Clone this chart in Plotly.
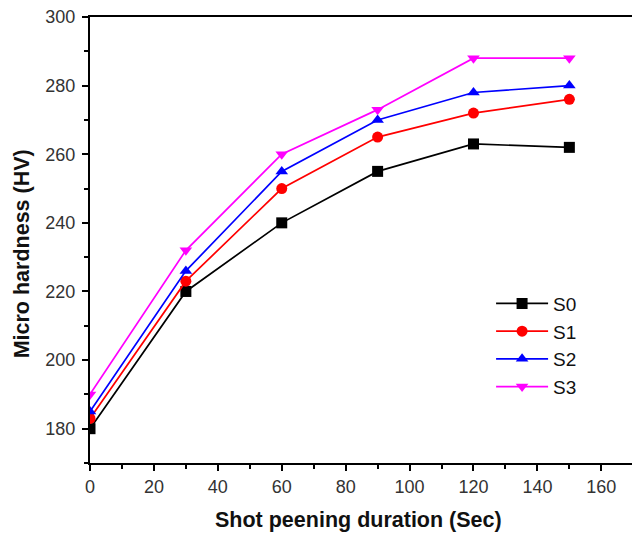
import plotly.graph_objects as go

x = [0, 30, 60, 90, 120, 150]
s0 = [180, 220, 240, 255, 263, 262]
s1 = [183, 223, 250, 265, 272, 276]
s2 = [185, 226, 255, 270, 278, 280]
s3 = [190, 232, 260, 273, 288, 288]
names = ["S0", "S1", "S2", "S3"]
colors = ["#000000", "#ff0000", "#0000ff", "#ff00ff"]
symbols = ["square", "circle", "triangle-up", "triangle-down"]
x_title = "Shot peening duration (Sec)"
y_title = "Micro hardness (HV)"

fig = go.Figure()
for name, ys, c, sym in zip(names, [s0, s1, s2, s3], colors, symbols):
    fig.add_trace(go.Scatter(
        x=x, y=ys, name=name, mode="lines+markers",
        line=dict(color=c, width=1.7),
        marker=dict(symbol=sym, size=11, color=c),
    ))

font = "Liberation Sans, Arial, sans-serif"
fig.update_layout(
    width=632, height=535,
    margin=dict(l=90, r=0, t=17, b=72),
    paper_bgcolor="white", plot_bgcolor="white",
    font=dict(family=font, size=18, color="#222"),
    showlegend=True,
    legend=dict(x=0.74, y=0.40, xanchor="left", yanchor="top",
                bgcolor="rgba(0,0,0,0)", font=dict(size=19, color="#111"),
                tracegroupgap=0, itemwidth=52),
    xaxis=dict(
        range=[0, 169.6], tickvals=[0, 20, 40, 60, 80, 100, 120, 140, 160],
        showgrid=False, zeroline=False, showline=True, linecolor="black", linewidth=2,
        mirror=True, ticks="outside", ticklen=6, tickwidth=2, tickcolor="black",
        minor=dict(ticks="outside", ticklen=4, tickwidth=1.5, tickcolor="black", dtick=10, showgrid=False),
        tickfont=dict(size=18, color="#333"),
        automargin=False,
    ),
    yaxis=dict(
        range=[170, 300], tickvals=[180, 200, 220, 240, 260, 280, 300],
        showgrid=False, zeroline=False, showline=True, linecolor="black", linewidth=2,
        ticks="outside", ticklen=6, tickwidth=2, tickcolor="black",
        minor=dict(ticks="outside", ticklen=4, tickwidth=1.5, tickcolor="black", dtick=10, showgrid=False),
        tickfont=dict(size=18, color="#333"),
        ticklabelstandoff=3,
        automargin=False,
    ),
    annotations=[
        dict(text="<b>" + x_title + "</b>", xref="paper", yref="paper", x=0.4954, y=-0.1278,
             xanchor="center", yanchor="middle", showarrow=False,
             font=dict(size=21.5, color="#111")),
        dict(text="<b>" + y_title + "</b>", xref="paper", yref="paper", x=-0.1255, y=0.47,
             xanchor="center", yanchor="middle", showarrow=False, textangle=-90,
             font=dict(size=21.5, color="#111")),
    ],
)

fig.write_html("out.html", config={"displayModeBar": False},
               post_script="document.body.style.margin='0';")
